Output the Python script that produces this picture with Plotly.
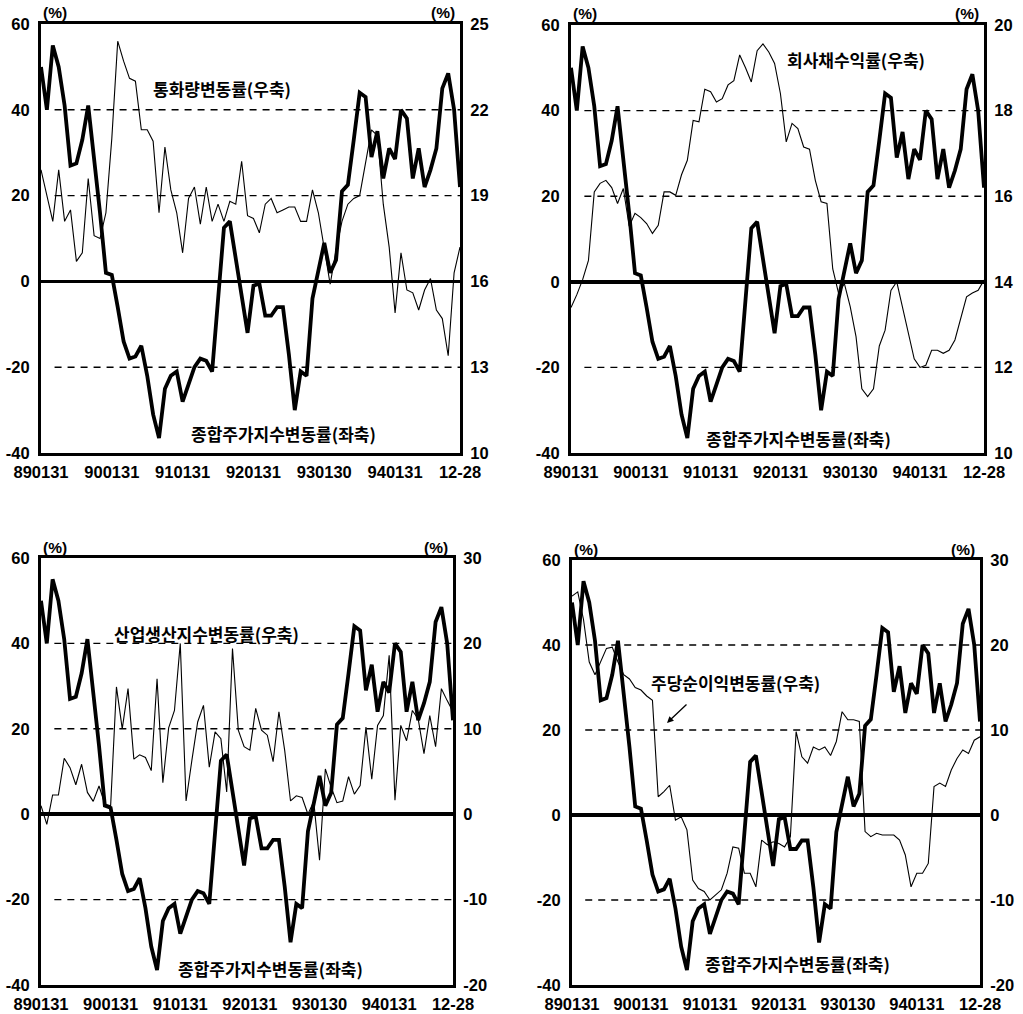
import plotly.graph_objects as go

W, H = 1023, 1014

# ---------------- data ----------------
months = list(range(72))  # monthly, 1989-01 .. 1994-12
tick_pos = [0, 12, 24, 36, 48, 60, 71]
tick_text = ["890131", "900131", "910131", "920131", "930130", "940131", "12-28"]
left_ticks = [-40, -20, 0, 20, 40, 60]

stock = [50, 40, 55, 50, 41, 27, 27.5, 33, 41, 29, 16, 2, 1.5, -6, -14, -18,
         -17.5, -15, -22, -31, -36.5, -25, -22, -21, -28, -24, -20, -18, -18.5, -21,
         -4, 12.5, 14, 5, -4, -12, -1, -0.5, -8, -8, -6, -6, -17, -30, -21, -22,
         -4, 3, 9, 2, 5, 21, 22.5, 33, 44, 43, 29, 35, 24, 31, 28.5, 40, 38, 24,
         31, 22, 26, 31, 45, 48.5, 40, 22]

money = [19.9, 19.0, 18.1, 19.9, 18.1, 18.5, 16.7, 17.0, 19.6, 17.6, 17.5, 18.4,
         21.0, 24.4, 23.7, 23.1, 23.0, 21.3, 21.3, 20.9, 18.4, 20.7, 19.2, 18.4,
         17.0, 18.9, 19.3, 18.0, 19.3, 18.1, 18.7, 18.1, 18.8, 18.7, 20.2, 18.3,
         18.2, 17.7, 18.7, 18.9, 18.4, 18.5, 18.6, 18.6, 18.1, 18.1, 19.2, 18.4,
         17.2, 15.9, 17.1, 18.1, 18.7, 18.9, 19.0, 20.2, 21.3, 21.1, 18.7, 17.2,
         14.9, 17.0, 15.7, 15.6, 15.0, 15.7, 16.1, 15.0, 14.7, 13.4, 16.3, 17.2]

bond = [13.4, 13.7, 14.05, 14.5, 16.1, 16.3, 16.37, 16.2, 15.83, 16.18, 15.3, 15.6,
        15.5, 15.36, 15.13, 15.32, 16.1, 16.1, 16.02, 16.5, 16.84, 17.77, 17.74, 18.5,
        18.44, 18.2, 18.28, 18.6, 18.7, 19.3, 19.0, 18.67, 19.4, 19.56, 19.37, 19.1,
        18.4, 17.27, 17.7, 17.58, 17.15, 17.1, 16.37, 15.87, 15.83, 14.3, 13.73, 13.96,
        13.42, 12.72, 11.5, 11.32, 11.5, 12.5, 12.87, 13.8, 14.0, 13.42, 12.83, 12.2,
        12.0, 12.05, 12.4, 12.4, 12.33, 12.4, 12.64, 13.18, 13.65, 13.74, 13.8, 14.04]

industry = [1.0, -1.2, 2.25, 2.25, 6.55, 5.45, 3.45, 5.85, 2.55, 1.5, 3.3, 1.2,
            1.0, 14.9, 10.0, 14.7, 6.45, 6.95, 6.65, 5.1, 15.85, 3.7, 10.1, 12.15,
            20.0, 1.55, 6.3, 10.8, 12.75, 5.5, 9.65, 8.85, 2.6, 19.4, 9.85, 7.9,
            7.5, 12.4, 9.85, 9.25, 6.15, 12.0, 7.45, 1.55, 2.15, 1.95, 0.0, 1.5,
            -5.4, 5.3, 3.15, 1.35, 1.55, 4.4, 2.35, 3.35, 10.2, 4.1, 10.4, 11.55,
            18.6, 1.65, 10.4, 8.6, 12.15, 11.15, 7.1, 11.55, 7.9, 14.7, 13.3, 12.0]

eps = [25.75, 26.25, 23.0, 18.0, 16.5, 18.0, 19.6, 19.75, 18.0, 16.5, 16.0, 15.0,
       14.7, 14.0, 13.5, 2.15, 2.75, 3.5, -0.6, -0.2, -1.75, -7.65, -8.65, -9.0,
       -10.0, -9.4, -8.8, -6.85, -3.75, -3.9, -6.85, -6.85, -8.45, -2.95, -3.5, -3.15,
       -3.35, -3.75, -2.55, 9.8, 6.85, 6.1, 8.0, 7.65, 8.0, 7.0, 8.65, 12.15,
       11.2, 11.2, 11.0, -1.95, -2.55, -2.15, -2.35, -2.35, -2.35, -2.95, -4.7, -8.45,
       -6.85, -6.85, -5.7, 3.35, 3.75, 3.35, 5.3, 6.65, 7.65, 7.25, 8.8, 9.2]

stock_label = "종합주가지수변동률(좌축)"
panels = [
    dict(y=money, name="통화량변동률(우축)", rr=[10, 25], rticks=[10, 13, 16, 19, 22, 25],
         xd=(41, 460), yd=(24, 453), lab=(222, 88), slab=(283, 433)),
    dict(y=bond, name="회사채수익률(우축)", rr=[10, 20], rticks=[10, 12, 14, 16, 18, 20],
         xd=(571, 984), yd=(25, 453), lab=(856, 60), slab=(798, 438)),
    dict(y=industry, name="산업생산지수변동률(우축)", rr=[-20, 30], rticks=[-20, -10, 0, 10, 20, 30],
         xd=(41, 453), yd=(558, 985), lab=(206, 633), slab=(270, 968)),
    dict(y=eps, name="주당순이익변동률(우축)", rr=[-20, 30], rticks=[-20, -10, 0, 10, 20, 30],
         xd=(572, 980), yd=(560, 985), lab=(735, 682), slab=(797, 963)),
]

fig = go.Figure()
tickfont = dict(family="Arial, Liberation Sans, sans-serif", size=16.5, color="black", weight="bold")
kfont = dict(family="Noto Sans CJK KR", size=17, color="black", weight="bold")
layout = {}
shapes = []
annotations = []

def px_x(v):
    return v / W

def px_y(v):
    return 1 - v / H

for k, p in enumerate(panels):
    n = k + 1
    xa = "x" if n == 1 else f"x{n}"
    yl_idx = 2 * k + 1
    yr_idx = 2 * k + 2
    yl = "y" if yl_idx == 1 else f"y{yl_idx}"
    yr = f"y{yr_idx}"
    xname = "xaxis" if n == 1 else f"xaxis{n}"
    ylname = "yaxis" if yl_idx == 1 else f"yaxis{yl_idx}"
    yrname = f"yaxis{yr_idx}"

    layout[xname] = dict(domain=[px_x(p["xd"][0]), px_x(p["xd"][1])], anchor=yl,
                         range=[0, 71], tickvals=tick_pos, ticktext=tick_text,
                         showgrid=False, zeroline=False, showline=True, mirror=True,
                         linewidth=3, linecolor="black", ticks="", tickfont=tickfont,
                         ticklabelstandoff=2, automargin=False)
    layout[ylname] = dict(domain=[px_y(p["yd"][1]), px_y(p["yd"][0])], anchor=xa,
                          range=[-40, 60], tickvals=left_ticks,
                          ticktext=[str(v) for v in left_ticks],
                          showgrid=False, zeroline=True, zerolinewidth=3.5,
                          zerolinecolor="black", showline=True, mirror=True,
                          linewidth=3, linecolor="black", ticks="", tickfont=tickfont,
                          ticklabelstandoff=5, automargin=False)
    layout[yrname] = dict(overlaying=yl, side="right", anchor=xa, range=p["rr"],
                          tickvals=p["rticks"], ticktext=[str(v) for v in p["rticks"]],
                          showgrid=False, zeroline=False, showline=True, linewidth=3,
                          linecolor="black", ticks="", tickfont=tickfont,
                          ticklabelstandoff=4, automargin=False)

    for g in (40, 20, -20):
        shapes.append(dict(type="line", xref=xa, yref=yl, x0=2.3, x1=71, y0=g, y1=g,
                           line=dict(color="black", width=1.4, dash="7px,6px"),
                           layer="below"))

    fig.add_trace(go.Scatter(x=months, y=p["y"], xaxis=xa, yaxis=yr, mode="lines",
                             line=dict(color="black", width=1.1), showlegend=False,
                             hoverinfo="skip"))
    fig.add_trace(go.Scatter(x=months, y=stock, xaxis=xa, yaxis=yl, mode="lines",
                             line=dict(color="black", width=3.8), showlegend=False,
                             hoverinfo="skip"))

    annotations.append(dict(text=p["name"], xref="paper", yref="paper",
                            x=px_x(p["lab"][0]), y=px_y(p["lab"][1]), showarrow=False,
                            font=kfont, xanchor="center", yanchor="middle"))
    annotations.append(dict(text=stock_label, xref="paper", yref="paper",
                            x=px_x(p["slab"][0]), y=px_y(p["slab"][1]), showarrow=False,
                            font=kfont, xanchor="center", yanchor="middle"))
    top = p["yd"][0] - 11
    annotations.append(dict(text="<b>(%)</b>", xref="paper", yref="paper",
                            x=px_x(p["xd"][0]), y=px_y(top), showarrow=False,
                            xanchor="left", yanchor="middle",
                            font=dict(family="Arial, Liberation Sans", size=15.5, color="black")))
    annotations.append(dict(text="<b>(%)</b>", xref="paper", yref="paper",
                            x=px_x(p["xd"][1] - 3), y=px_y(top), showarrow=False,
                            xanchor="right", yanchor="middle",
                            font=dict(family="Arial, Liberation Sans", size=15.5, color="black")))

annotations.append(dict(text="", xref="paper", yref="paper", x=px_x(667), y=px_y(723),
                        ax=21, ay=-20, showarrow=True, arrowhead=2, arrowsize=1,
                        arrowwidth=1.3, arrowcolor="black"))

fig.update_layout(**layout)
fig.update_layout(width=W, height=H, margin=dict(l=0, r=0, t=0, b=0),
                  paper_bgcolor="white", plot_bgcolor="white",
                  shapes=shapes, annotations=annotations, showlegend=False,
                  hovermode=False)

fig.write_html("out.html", config={"displayModeBar": False, "staticPlot": True},
               post_script="document.body.style.margin='0px';"
                           "document.body.style.overflow='hidden';")
